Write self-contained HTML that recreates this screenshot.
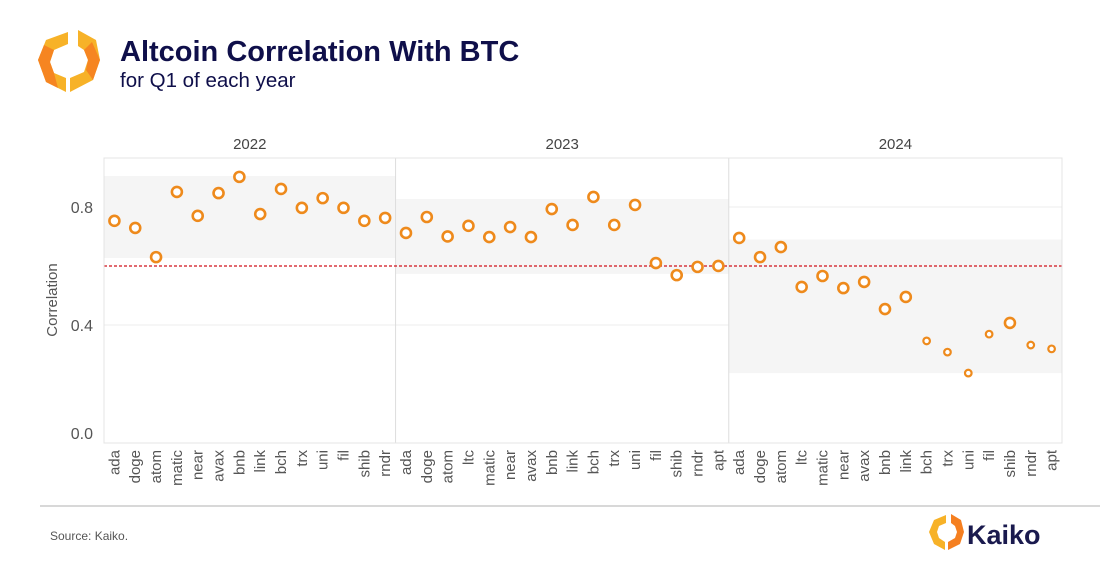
<!DOCTYPE html>
<html><head><meta charset="utf-8"><style>
body{margin:0;background:#fff;font-family:"Liberation Sans",Arial,sans-serif;}
svg{display:block}
</style></head><body>
<svg id="chart" width="1100" height="579" viewBox="0 0 1100 579">
<g>
<polygon points="68,32 46,40 38,60 46,82 66,92 66,78 54,73 50,62 54,50 68,44" fill="#f7b228"/>
<polygon points="44,45 38,60 46,82 58,88 54,73 50,62 54,50" fill="#f57f20" opacity="0.9"/>
<polygon points="78,30 96,40 100,60 93,80 70,92 70,78 84,72 88,60 84,50 78,46" fill="#f7b228"/>
<polygon points="92,42 100,60 93,80 86,70 88,60 84,50" fill="#f57f20" opacity="0.9"/>
</g>
<text x="120" y="61" font-size="29" font-weight="bold" fill="#0f0f4a">Altcoin Correlation With BTC</text>
<text x="120" y="87" font-size="20.5" fill="#0f0f4a">for Q1 of each year</text>
<g id="plot"></g>
<line x1="40" y1="506" x2="1100" y2="506" stroke="#ccc" stroke-width="1.5"/>
<text x="50" y="540" font-size="12" fill="#555">Source: Kaiko.</text>
<g>
<polygon points="946,515 934,520 929,532 934,544 945,550 945,542 939,538 937,532 939,526 946,523" fill="#f7b228"/>
<polygon points="951,514 961,520 964,532 960,544 948,550 948,542 955,538 957,532 955,526 951,523" fill="#f57f20"/>
<text x="967" y="544" font-size="27" font-weight="bold" fill="#1a1a4e">Kaiko</text>
</g>
</svg>
<script>
const years = ["2022","2023","2024"];
const coins2022 = ["ada","doge","atom","matic","near","avax","bnb","link","bch","trx","uni","fil","shib","rndr"];
const coins2023 = ["ada","doge","atom","ltc","matic","near","avax","bnb","link","bch","trx","uni","fil","shib","rndr","apt"];
const coins2024 = ["ada","doge","atom","ltc","matic","near","avax","bnb","link","bch","trx","uni","fil","shib","rndr","apt"];
const values2022 = [0.753,0.729,0.63,0.851,0.77,0.847,0.902,0.776,0.861,0.797,0.83,0.797,0.753,0.763];
const values2023 = [0.712,0.766,0.70,0.736,0.698,0.732,0.698,0.793,0.739,0.834,0.739,0.807,0.61,0.569,0.597,0.60];
const values2024 = [0.695,0.63,0.664,0.529,0.566,0.525,0.546,0.454,0.495,0.346,0.308,0.237,0.369,0.407,0.332,0.319];
const large2024 = [1,1,1,1,1,1,1,1,1,0,0,0,0,1,0,0];
const bandLow = [0.627,0.573,0.237];
const bandHigh = [0.905,0.827,0.69];
const yTicks = [0.0,0.4,0.8];
const threshold = 0.6;

const NS="http://www.w3.org/2000/svg";
const g=document.getElementById('plot');
const pLeft=104,pRight=1062,pTop=158,pBottom=443,yMax=0.966;
const y=v=>pBottom-(v/yMax)*(pBottom-pTop);
const step=(pRight-pLeft)/46;
function mk(t,a){const e=document.createElementNS(NS,t);for(const k in a)e.setAttribute(k,a[k]);g.appendChild(e);return e;}
const groups=[[coins2022,values2022],[coins2023,values2023],[coins2024,values2024]];
yTicks.forEach(t=>{
  const l=mk('line',{x1:pLeft,x2:pRight,y1:y(t),y2:y(t),stroke:'#ececec','stroke-width':1});
  
  
  const ly=t===0?y(t)-4:y(t)+6;
  const tx=mk('text',{x:93,y:ly,'font-size':16,fill:'#555','text-anchor':'end'});
  tx.textContent=t.toFixed(1);
  
  
});
const yt=mk('text',{transform:'translate(57,300) rotate(-90)','font-size':15,fill:'#555','text-anchor':'middle'});
yt.textContent='Correlation';


let idx=0;
const pts=[];
groups.forEach((gr,gi)=>{
  const coins=gr[0], vals=gr[1];
  const x0=pLeft+idx*step, x1=x0+coins.length*step;
  const band=mk('rect',{x:x0,y:y(bandHigh[gi]),width:x1-x0,height:y(bandLow[gi])-y(bandHigh[gi]),fill:'#f5f5f5'});
  
  
  const yl=mk('text',{x:(x0+x1)/2,y:149,'font-size':15,fill:'#444','text-anchor':'middle'});
  yl.textContent=years[gi];
  
  
  if(gi>0){const d=mk('line',{x1:x0,x2:x0,y1:pTop,y2:pBottom,stroke:'#ddd'});
    
    }
  coins.forEach((c,i)=>{
    const cx=x0+(i+0.5)*step;
    const lb=mk('text',{transform:'translate('+(cx+5)+',450) rotate(-90)','font-size':15,fill:'#555','text-anchor':'end'});
    lb.textContent=c;
    
    
    const big=gi<2||large2024[i];
    pts.push({cx:cx,cy:y(vals[i]),big:big,name:'point-'+years[gi]+'-'+c});
  });
  idx+=coins.length;
});
const th=mk('line',{x1:pLeft,x2:pRight,y1:y(threshold),y2:y(threshold),stroke:'#d0101a','stroke-width':1.2,'stroke-dasharray':'3,2'});


const fr=mk('rect',{x:pLeft,y:pTop,width:pRight-pLeft,height:pBottom-pTop,fill:'none',stroke:'#e4e4e4'});


pts.forEach(p=>{
  const c=mk('circle',{cx:p.cx,cy:p.cy,r:p.big?5:3.3,fill:'#fff',stroke:'#ee8a1c','stroke-width':p.big?2.6:2.2});
  
  
});
</script>
</body></html>
